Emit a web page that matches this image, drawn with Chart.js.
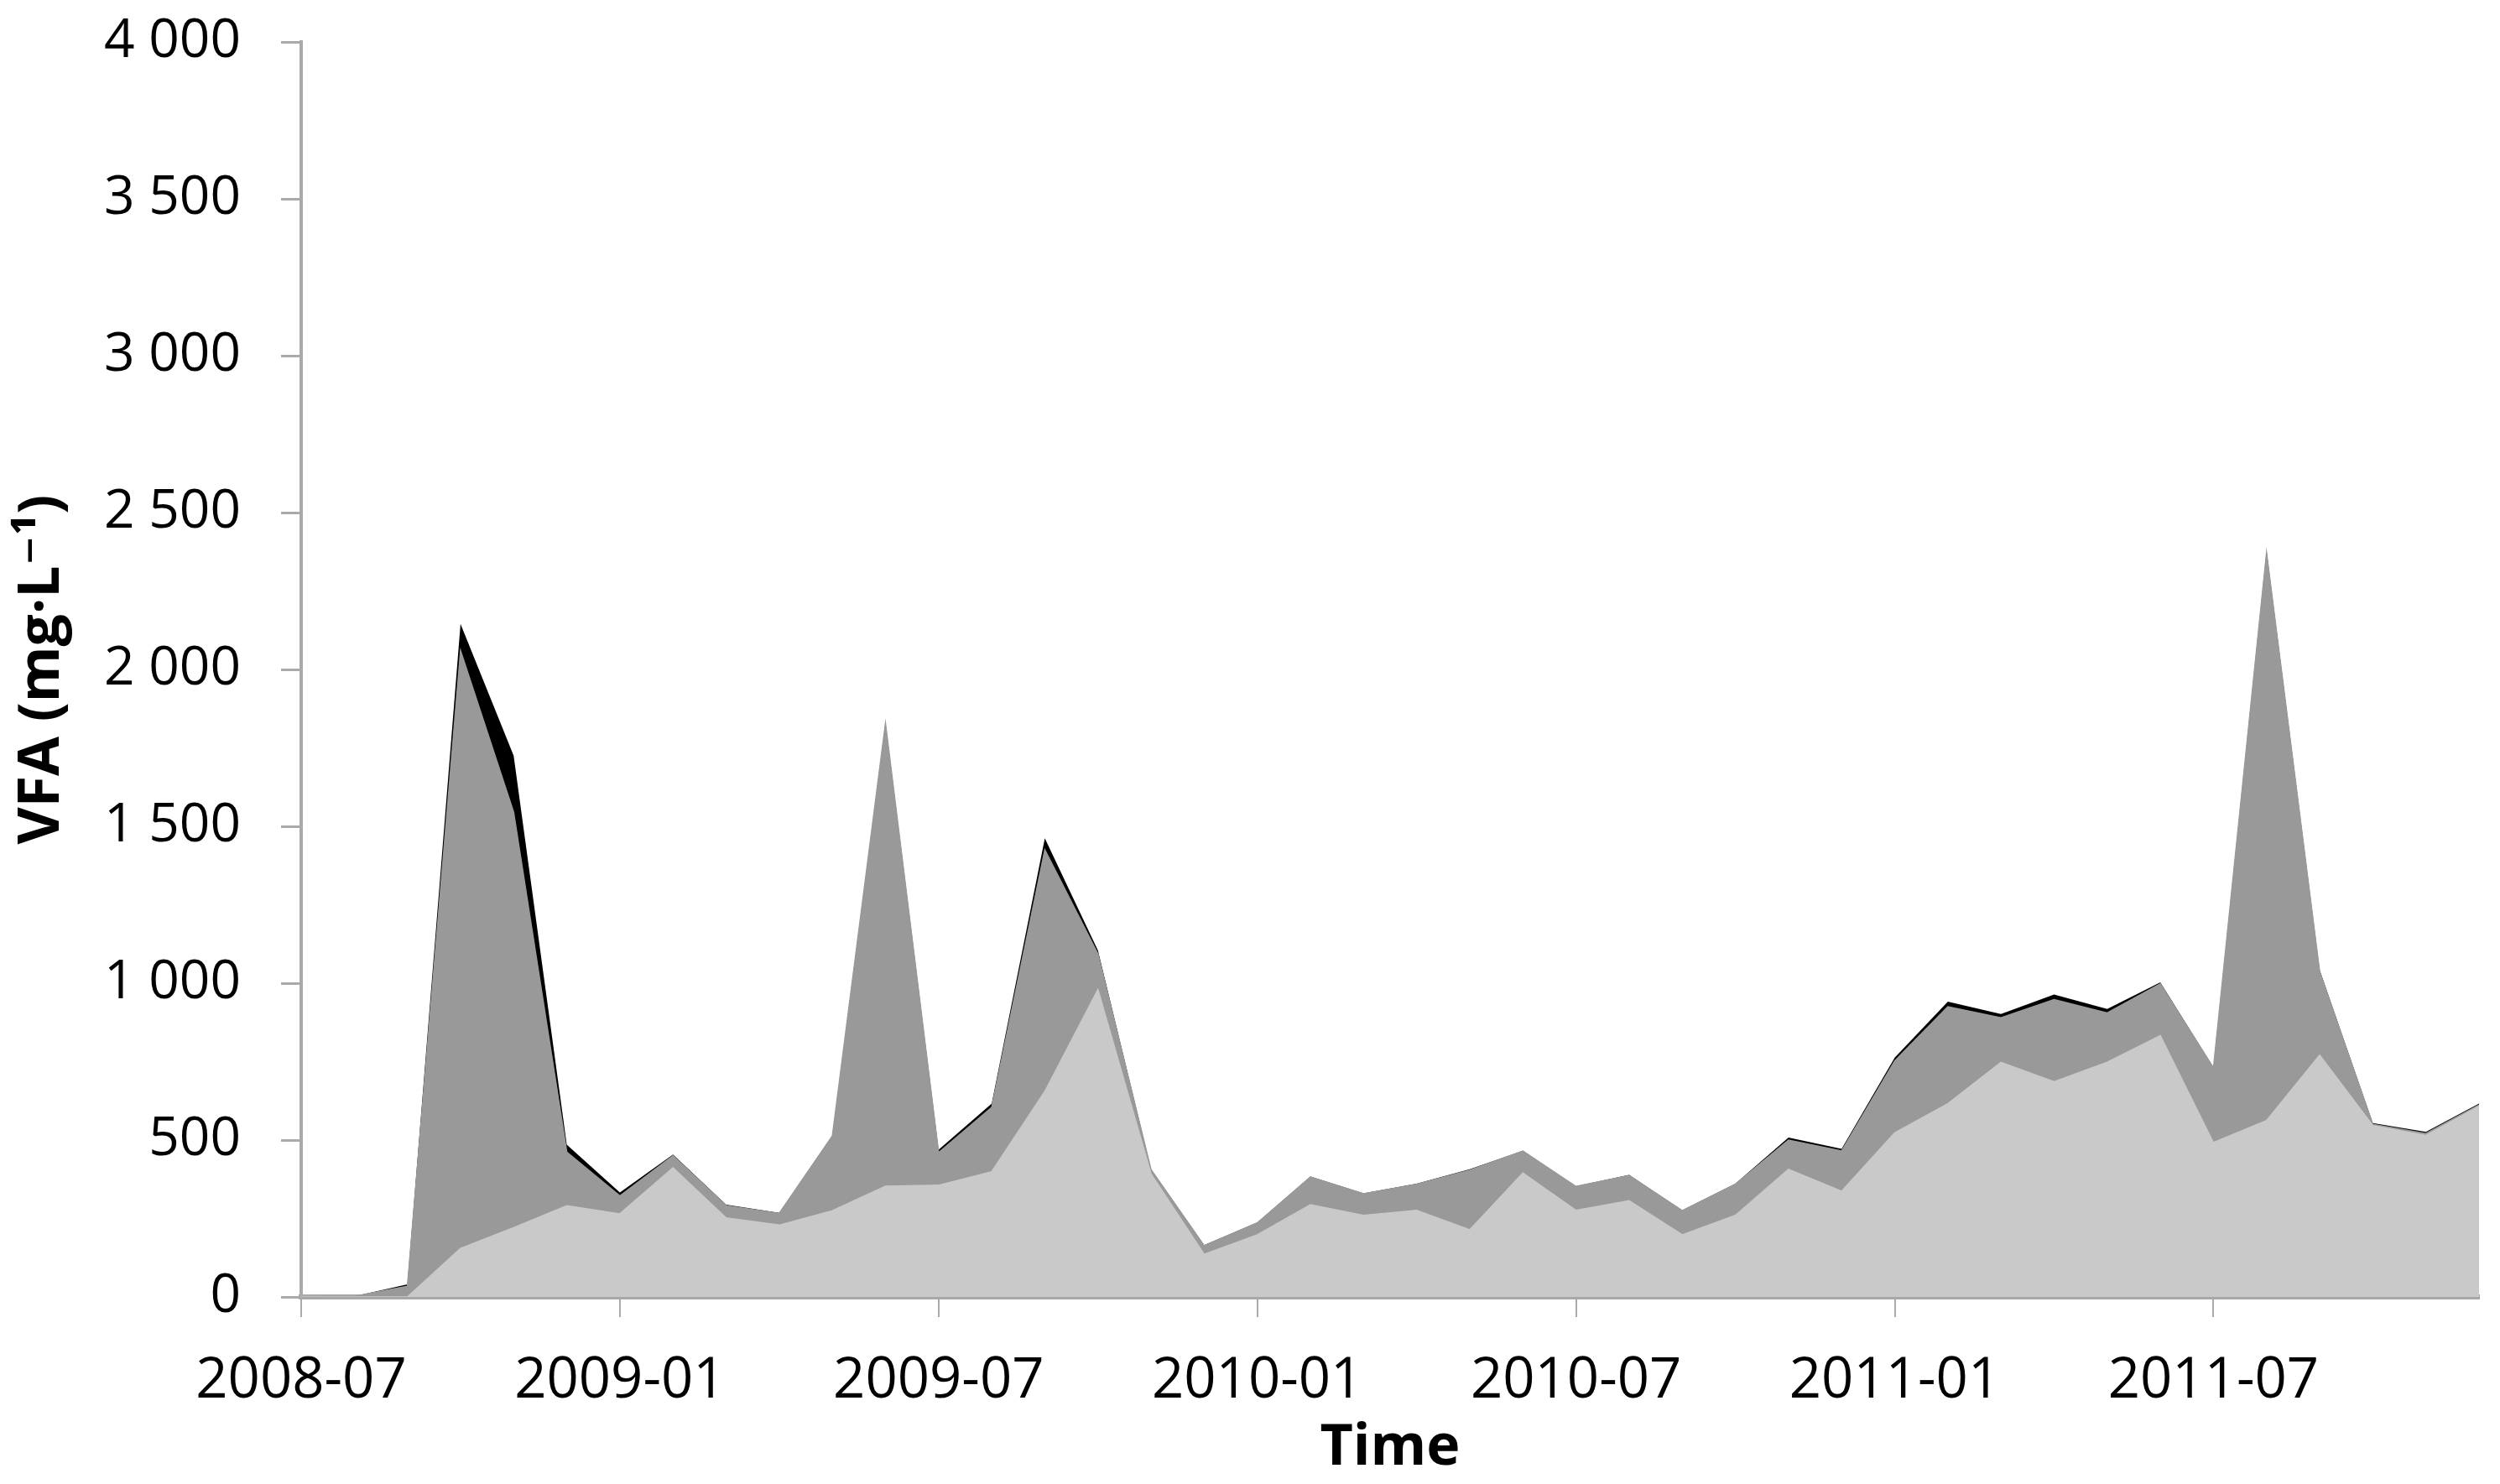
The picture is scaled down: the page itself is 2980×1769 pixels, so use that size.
<!DOCTYPE html>
<html>
<head>
<meta charset="utf-8">
<script src="https://cdn.jsdelivr.net/npm/chart.js@4"></script>
<style>
  html, body { margin: 0; padding: 0; background: #ffffff; }
  canvas { display: block; }
</style>
</head>
<body>
<canvas id="c" width="2980" height="1769" style="width:2980px;height:1769px"></canvas>
<script>
// Monthly sampling dates
const months = [
  '2008-07','2008-08','2008-09','2008-10','2008-11','2008-12',
  '2009-01','2009-02','2009-03','2009-04','2009-05','2009-06',
  '2009-07','2009-08','2009-09','2009-10','2009-11','2009-12',
  '2010-01','2010-02','2010-03','2010-04','2010-05','2010-06',
  '2010-07','2010-08','2010-09','2010-10','2010-11','2010-12',
  '2011-01','2011-02','2011-03','2011-04','2011-05','2011-06',
  '2011-07','2011-08','2011-09','2011-10','2011-11','2011-12'
];

// Bottom layer (light grey), mg/L
const lightSeries = [
  0, 0, 0, 155, 221, 291,
  265, 412, 252, 229, 275, 353,
  356, 399, 655, 980, 392, 136,
  198, 294, 260, 276, 214, 395,
  276, 307, 198, 260, 407, 337,
  523, 616, 748, 686, 748, 833,
  492, 562, 771, 546, 515, 608
];

// Middle layer (dark grey), mg/L
const midSeries = [
  0, 2, 34, 1905, 1324, 171,
  57, 38, 39, 37, 238, 1475,
  104, 205, 770, 113, 13, 27,
  38, 88, 69, 83, 190, 70,
  76, 80, 77, 99, 93, 128,
  229, 309, 142, 262, 157, 165,
  238, 1810, 265, 4, 6, 4
];

// Top layer (black), mg/L
const topSeries = [
  0, 0, 6, 85, 180, 23,
  11, 4, 3, 2, 2, 3,
  9, 12, 37, 11, 2, 2,
  1, 2, 1, 2, 3, 1,
  1, 2, 1, 2, 8, 7,
  11, 16, 12, 16, 13, 5,
  2, 6, 6, 4, 5, 4
];

const xTickLabels = ['2008-07','2009-01','2009-07','2010-01','2010-07','2011-01','2011-07'];
const yTickValues = [0, 500, 1000, 1500, 2000, 2500, 3000, 3500, 4000];

function fmtThousands(v) {
  if (v < 1000) return String(v);
  const th = Math.floor(v / 1000);
  const rest = String(v % 1000).padStart(3, '0');
  return th + ' ' + rest;
}

const toPoints = arr => arr.map((v, i) => ({ x: i, y: v }));

const baseDs = { pointRadius: 0, pointHoverRadius: 0, tension: 0 };

new Chart(document.getElementById('c'), {
  type: 'line',
  data: {
    datasets: [
      Object.assign({}, baseDs, {
        label: 'light', data: toPoints(lightSeries), fill: 'origin',
        backgroundColor: '#c9c9c9', borderColor: '#c9c9c9', borderWidth: 1.5
      }),
      Object.assign({}, baseDs, {
        label: 'mid', data: toPoints(midSeries), fill: '-1',
        backgroundColor: '#999999', borderColor: '#999999', borderWidth: 1.5
      }),
      Object.assign({}, baseDs, {
        label: 'top', data: toPoints(topSeries), fill: '-1',
        backgroundColor: '#000000', borderColor: 'rgba(0,0,0,0)', borderWidth: 0
      })
    ]
  },
  options: {
    responsive: false,
    animation: false,
    devicePixelRatio: 1,
    layout: { padding: { top: 50, right: 25, left: 0, bottom: 0 } },
    plugins: { legend: { display: false }, tooltip: { enabled: false } },
    scales: {
      x: {
        type: 'linear',
        min: 0,
        max: months.length - 1,
        afterBuildTicks: s => { s.ticks = xTickLabels.map(l => ({ value: months.indexOf(l) })); },
        afterFit: s => { s.height = 223; },
        ticks: {
          callback: v => months[v],
          font: { family: 'Open Sans', size: 67 },
          color: '#000000',
          padding: 37,
          maxRotation: 0,
          autoSkip: false
        },
        grid: { display: true, drawOnChartArea: false, drawTicks: true, tickLength: 24, color: '#aaaaaa', lineWidth: 2 },
        border: { display: true, color: '#a8a8a8', width: 6 },
        title: {
          display: true, text: 'Time',
          font: { family: 'Open Sans', size: 68, weight: 'bold' },
          color: '#000000', padding: { top: 0, bottom: 2 }
        }
      },
      y: {
        stacked: true,
        min: 0,
        max: 4000,
        afterBuildTicks: s => { s.ticks = yTickValues.map(v => ({ value: v })); },
        afterFit: s => { s.width = 359; s.paddingTop = 0; s.paddingBottom = 0; },
        ticks: {
          callback: v => fmtThousands(v),
          font: { family: 'Open Sans', size: 64 },
          color: '#000000',
          padding: 48
        },
        grid: { display: true, drawOnChartArea: false, drawTicks: true, tickLength: 24, color: '#aaaaaa', lineWidth: 3 },
        border: { display: true, color: '#aaaaaa', width: 4 },
        title: {
          display: true, text: 'VFA (mg·L⁻¹)',
          font: { family: "'Open Sans', 'DejaVu Sans'", size: 68, weight: 'bold' },
          color: '#000000', padding: { top: 10, bottom: 0 }
        }
      }
    }
  }
});
</script>
</body>
</html>
